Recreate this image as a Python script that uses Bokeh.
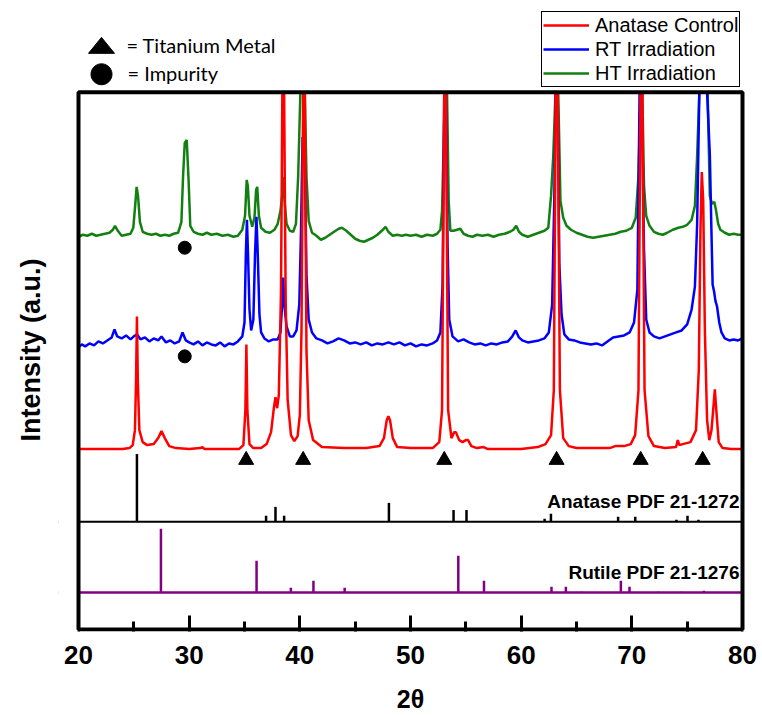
import numpy as np
from bokeh.plotting import figure
from bokeh.models import (Range1d, FixedTicker, Legend, LegendItem, Label, Title,
                          PolyAnnotation, Span, BoxAnnotation)
from bokeh.embed import file_html
from bokeh.resources import INLINE

# ---------------- data (2theta in degrees, intensity in a.u.) ----------------
anatase_control = [
    (20.0, 1), (21.0, 1), (22.0, 1), (23.0, 1), (24.0, 1), (24.6, 2), (24.9, 5),
    (25.1, 20), (25.2, 70), (25.28, 134), (25.36, 70), (25.5, 20), (25.8, 8),
    (26.2, 5), (26.8, 6), (27.2, 12), (27.5, 19), (27.8, 12), (28.2, 4), (28.8, 2),
    (30.0, 1), (31.0, 2), (31.2, 3), (31.4, 1), (33.0, 1), (34.5, 1), (34.9, 5),
    (35.08, 40), (35.17, 106), (35.26, 40), (35.45, 6), (35.8, 2), (36.5, 2),
    (37.0, 6), (37.4, 18), (37.65, 42), (37.8, 53), (37.95, 42), (38.1, 55),
    (38.3, 160), (38.42, 420), (38.58, 420), (38.72, 150), (38.9, 50), (39.2, 15),
    (39.5, 9), (39.8, 14), (40.0, 35), (40.15, 120), (40.3, 420), (40.45, 420),
    (40.6, 100), (40.8, 30), (41.2, 10), (42.0, 3), (44.0, 2), (46.0, 2),
    (47.2, 4), (47.6, 12), (47.85, 30), (48.0, 34), (48.15, 30), (48.4, 12),
    (48.8, 3), (50.0, 2), (52.0, 2), (52.6, 8), (52.85, 40), (53.05, 420),
    (53.2, 420), (53.4, 40), (53.7, 12), (53.95, 18), (54.1, 18), (54.4, 10),
    (54.7, 8), (55.0, 10), (55.2, 10), (55.5, 4), (56.0, 2), (56.6, 3), (57.0, 1),
    (60.0, 1), (61.5, 3), (62.2, 6), (62.7, 15), (62.95, 60), (63.12, 420),
    (63.3, 420), (63.5, 60), (63.8, 12), (64.3, 4), (65.0, 2), (68.0, 2),
    (68.5, 4), (69.3, 4), (69.9, 6), (70.3, 15), (70.6, 60), (70.78, 420),
    (70.95, 420), (71.15, 60), (71.5, 14), (72.0, 4), (73.0, 2), (74.0, 3),
    (74.15, 10), (74.3, 5), (74.6, 6), (75.3, 8), (75.8, 20), (76.05, 80),
    (76.2, 220), (76.32, 279), (76.45, 250), (76.6, 120), (76.8, 30), (77.0, 10),
    (77.2, 20), (77.35, 40), (77.5, 61), (77.6, 45), (77.7, 30), (77.85, 8),
    (78.2, 2), (79.0, 1), (80.0, 1),
]

rt_irradiation = [
    (20.0, -3), (20.3, 0), (20.6, -2), (21.0, 1), (21.4, -1), (21.8, 3), (22.2, 1),
    (22.6, 4), (23.0, 7), (23.25, 15), (23.5, 8), (23.9, 6), (24.3, 9), (24.7, 5),
    (25.0, 8), (25.3, 10), (25.6, 5), (26.0, 7), (26.4, 3), (26.8, 6), (27.2, 4),
    (27.5, 8), (27.9, 2), (28.3, 4), (28.7, 1), (29.1, 3), (29.4, 12), (29.7, 4),
    (30.0, 2), (30.4, 0), (30.8, 3), (31.2, -1), (31.6, 2), (32.0, 0), (32.4, -1),
    (32.8, 2), (33.2, -2), (33.6, 1), (34.0, 0), (34.4, 3), (34.8, 8), (35.0, 22),
    (35.12, 90), (35.22, 125), (35.32, 90), (35.45, 35), (35.6, 14), (35.8, 25),
    (35.95, 90), (36.08, 128), (36.2, 90), (36.35, 30), (36.5, 12), (36.8, 6),
    (37.2, 3), (37.6, 5), (38.0, 5), (38.25, 12), (38.4, 40), (38.5, 67),
    (38.6, 40), (38.8, 18), (39.1, 8), (39.4, 8), (39.7, 14), (39.95, 40),
    (40.1, 110), (40.25, 208), (40.45, 190), (40.6, 70), (40.8, 25), (41.1, 12),
    (41.5, 6), (42.0, 4), (42.5, 1), (43.0, 3), (43.5, 6), (44.0, 4), (44.5, 1),
    (45.0, 2), (45.5, 0), (46.0, 2), (46.5, -1), (47.0, 1), (47.5, 0), (48.0, 2),
    (48.5, 0), (49.0, 2), (49.5, -1), (50.0, 1), (50.5, -2), (51.0, 0), (51.5, -1),
    (52.0, 1), (52.4, 4), (52.7, 12), (52.9, 60), (53.05, 300), (53.2, 300),
    (53.35, 100), (53.5, 25), (53.8, 8), (54.3, 3), (54.8, 5), (55.3, 2), (55.8, 0),
    (56.3, 1), (56.8, -1), (57.3, 1), (57.8, 0), (58.3, 2), (58.8, 3), (59.2, 8),
    (59.5, 14), (59.8, 7), (60.1, 4), (60.6, 2), (61.1, 3), (61.6, 4), (62.1, 6),
    (62.5, 12), (62.8, 40), (63.0, 150), (63.12, 300), (63.3, 300), (63.45, 80),
    (63.65, 30), (63.9, 10), (64.3, 5), (64.8, 4), (65.3, 2), (65.8, 1), (66.3, 0),
    (66.8, 1), (67.3, -1), (67.8, 3), (68.3, 7), (68.8, 8), (69.3, 9), (69.8, 12),
    (70.2, 22), (70.5, 55), (70.7, 300), (70.9, 300), (71.1, 95), (71.3, 25),
    (71.6, 12), (72.0, 8), (72.5, 6), (73.0, 8), (73.5, 10), (74.0, 12), (74.5, 14),
    (75.0, 20), (75.4, 35), (75.7, 58), (75.9, 120), (76.1, 300), (76.8, 300),
    (77.05, 190), (77.2, 110), (77.3, 60), (77.45, 52), (77.55, 44), (77.7, 38),
    (77.9, 22), (78.1, 12), (78.4, 6), (78.8, 4), (79.2, 5), (79.6, 4), (80.0, 6),
]

ht_irradiation = [
    (20.0, -1), (20.4, 1), (20.8, 0), (21.2, 2), (21.6, 0), (22.0, 1), (22.4, 2),
    (22.8, 3), (23.1, 6), (23.3, 10), (23.55, 5), (23.9, 0), (24.3, 1), (24.7, 2),
    (24.95, 8), (25.12, 30), (25.25, 49), (25.38, 40), (25.55, 14), (25.8, 4),
    (26.2, 2), (26.6, 1), (27.0, 2), (27.4, 0), (27.8, 1), (28.2, 0), (28.6, 2),
    (29.0, 3), (29.3, 14), (29.45, 60), (29.6, 93), (29.78, 96), (29.95, 55),
    (30.1, 10), (30.4, 4), (30.8, 2), (31.2, 1), (31.6, 3), (32.0, 1), (32.5, 2),
    (33.0, 0), (33.5, 1), (34.0, -1), (34.4, 0), (34.8, 6), (35.05, 20), (35.2, 56),
    (35.3, 50), (35.45, 20), (35.7, 9), (35.9, 18), (36.05, 46), (36.15, 49),
    (36.3, 20), (36.5, 8), (36.9, 4), (37.3, 3), (37.7, 6), (38.0, 12), (38.25, 25),
    (38.4, 40), (38.5, 59), (38.62, 35), (38.8, 12), (39.1, 5), (39.4, 4),
    (39.65, 12), (39.85, 60), (40.05, 160), (40.2, 250), (40.45, 250), (40.6, 60),
    (40.8, 15), (41.1, 3), (41.5, 0), (41.9, -4), (42.3, -2), (42.7, 1), (43.1, 4),
    (43.5, 7), (43.8, 8), (44.2, 5), (44.6, 1), (45.0, -3), (45.4, -5), (45.8, -6),
    (46.2, -4), (46.6, -2), (47.0, 1), (47.4, 5), (47.75, 9), (48.0, 4), (48.4, 0),
    (48.8, 1), (49.2, 0), (49.6, 1), (50.0, 0), (50.5, 1), (51.0, -1), (51.5, 1),
    (52.0, 0), (52.4, 2), (52.7, 6), (52.85, 25), (52.97, 80), (53.1, 250),
    (53.3, 250), (53.45, 35), (53.6, 5), (53.9, 5), (54.2, 6), (54.5, 7), (54.8, 2),
    (55.2, 0), (55.6, -1), (56.0, 1), (56.5, 0), (57.0, 1), (57.5, -1), (58.0, 1),
    (58.5, 2), (59.0, 4), (59.3, 6), (59.55, 10), (59.8, 4), (60.1, 1), (60.6, -1),
    (61.1, 1), (61.6, 3), (62.1, 5), (62.45, 8), (62.7, 40), (62.9, 80), (63.1, 250),
    (63.35, 250), (63.55, 35), (63.8, 18), (64.1, 10), (64.5, 6), (65.0, 3),
    (65.5, 1), (66.0, -1), (66.5, -2), (67.0, -1), (67.5, 0), (68.0, 1), (68.5, 2),
    (69.0, 4), (69.5, 5), (70.0, 8), (70.35, 18), (70.6, 60), (70.8, 250),
    (70.95, 250), (71.1, 50), (71.3, 20), (71.6, 10), (72.0, 4), (72.4, 2),
    (72.8, 1), (73.2, 3), (73.7, 6), (74.2, 8), (74.6, 9), (75.0, 11), (75.4, 16),
    (75.7, 30), (75.9, 80), (76.1, 250), (76.85, 250), (77.05, 40), (77.25, 32),
    (77.45, 34), (77.6, 26), (77.8, 12), (78.0, 6), (78.4, 3), (78.8, 1), (79.2, 2),
    (79.6, 1), (80.0, 1),
]

# Reference patterns (stick positions and relative heights)
anatase_pos = [25.28, 36.95, 37.80, 38.58, 48.05, 53.89, 55.06, 62.12, 62.69,
               68.76, 70.31, 74.03, 75.03, 76.02]
anatase_h = [68, 6, 15, 6, 19, 12, 12, 3, 8, 5, 5, 2, 6, 2]
rutile_pos = [27.45, 36.09, 39.19, 41.23, 44.05, 54.32, 56.64, 62.74, 64.04,
              65.48, 69.01, 69.79, 72.41, 74.41, 76.51]
rutile_h = [64, 32, 5, 12, 5, 37, 12, 6, 6, 1, 12, 6, 1, 1, 2]

# Marked peaks
ti_metal_pos = [35.15, 40.3, 53.05, 63.2, 70.8, 76.4]
impurity_pos = [29.6]

x_ticks = [20, 30, 40, 50, 60, 70, 80]
x_minor = [25, 35, 45, 55, 65, 75]

# ---------------- layout constants ----------------
RED_OFF, BLUE_OFF, GREEN_OFF = 180, 286, 395
ANA_BASE, RUT_BASE = 108, 37
TI_Y = 170
IMP_DY = -12
TOP = 539          # upper edge of the plotting box (data units)
FONT = "Liberation Sans"
K = 60.0 / 664.0   # degrees per pixel
LEFT = 58          # canvas x where the (extended) frame starts


def X(px):  # canvas px -> data x
    return 20 + (px - 78) * K


def Y(py):  # canvas px -> data y
    return 631 - py


p = figure(width=762, height=715, output_backend="svg", toolbar_location=None,
           x_range=Range1d(X(LEFT), X(762)), y_range=Range1d(Y(633), Y(0)),
           y_axis_location=None,
           min_border_left=LEFT, min_border_right=0, min_border_top=0,
           min_border_bottom=82)
p.xgrid.visible = False
p.ygrid.visible = False
p.outline_line_color = None
p.background_fill_color = "white"
p.border_fill_color = "white"


def split(pts, off):
    xs = [a for a, _ in pts]
    ys = [min(b + off, TOP) for _, b in pts]   # off-scale peaks are cut at the box
    return xs, ys


gx, gy = split(ht_irradiation, GREEN_OFF)
bx, by = split(rt_irradiation, BLUE_OFF)
rx, ry = split(anatase_control, RED_OFF)
r_green = p.line(gx, gy, line_color="#118011", line_width=2.5)
r_blue = p.line(bx, by, line_color="#0000ff", line_width=2.5)
r_red = p.line(rx, ry, line_color="#ff0000", line_width=2.5)

# reference patterns
p.segment(x0=anatase_pos, y0=[ANA_BASE] * len(anatase_pos), x1=anatase_pos,
          y1=[ANA_BASE + h for h in anatase_h], line_color="black", line_width=2.5)
p.segment(x0=rutile_pos, y0=[RUT_BASE] * len(rutile_pos), x1=rutile_pos,
          y1=[RUT_BASE + h for h in rutile_h], line_color="#800080", line_width=2.5)

# markers
p.scatter(ti_metal_pos, [TI_Y] * len(ti_metal_pos), marker="triangle", size=15,
          color="black")
p.scatter(impurity_pos * 2, [GREEN_OFF + IMP_DY, BLUE_OFF + IMP_DY], marker="circle",
          size=13, color="black")

# pattern baselines
p.add_layout(Span(location=ANA_BASE, dimension="width", line_color="black",
                  line_width=2))
p.add_layout(Span(location=RUT_BASE, dimension="width", line_color="#800080",
                  line_width=2.5))

# white masks outside the plotting box, then the box itself
p.add_layout(BoxAnnotation(left=X(LEFT - 20), right=20, bottom=Y(700), top=Y(-40),
                           fill_color="white", fill_alpha=1.0, line_alpha=0))
p.add_layout(BoxAnnotation(left=80, right=X(800), bottom=Y(700), top=Y(-40),
                           fill_color="white", fill_alpha=1.0, line_alpha=0))
p.add_layout(BoxAnnotation(left=20, right=80, bottom=0, top=TOP, fill_alpha=0,
                           line_color="black", line_alpha=1.0, line_width=4))

# labels for reference patterns
p.add_layout(Label(x=X(739), y=Y(503), text="Anatase PDF 21-1272", text_align="right",
                   text_baseline="middle", text_font=FONT, text_font_size="19px",
                   text_font_style="bold", text_color="black"))
p.add_layout(Label(x=X(739), y=Y(574), text="Rutile PDF 21-1276", text_align="right",
                   text_baseline="middle", text_font=FONT, text_font_size="19px",
                   text_font_style="bold", text_color="black"))

# symbol key (above the box)
p.add_layout(PolyAnnotation(xs=[X(88), X(114), X(101)], ys=[Y(53), Y(53), Y(37)],
                            fill_color="black", fill_alpha=1, line_color="black",
                            line_alpha=1, line_width=1))
t = np.linspace(0, 2 * np.pi, 48, endpoint=False)
p.add_layout(PolyAnnotation(xs=[X(101 + 10.5 * c) for c in np.cos(t)],
                            ys=[Y(74 + 10.5 * s) for s in np.sin(t)],
                            fill_color="black", fill_alpha=1, line_color="black",
                            line_alpha=1, line_width=1))
p.add_layout(Label(x=X(126), y=Y(45), text="= Titanium Metal", text_baseline="middle",
                   text_font="Lato", text_font_size="20px", text_color="black"))
p.add_layout(Label(x=X(127), y=Y(73), text="= Impurity", text_baseline="middle",
                   text_font="Lato", text_font_size="20px", text_color="black"))

# legend
legend = Legend(items=[LegendItem(label="Anatase Control", renderers=[r_red]),
                       LegendItem(label="RT Irradiation", renderers=[r_blue]),
                       LegendItem(label="HT Irradiation", renderers=[r_green])],
                location=(541 - LEFT, 633 - 89), orientation="vertical",
                border_line_color="black", border_line_width=1, border_line_alpha=1,
                background_fill_color="white", background_fill_alpha=1.0,
                label_text_font=FONT, label_text_font_size="20px",
                label_text_color="black",
                glyph_width=46, glyph_height=24, label_height=24,
                label_standoff=6, padding=1, spacing=0, margin=0)
p.add_layout(legend)

# y title on the left, starting (bottom end) at canvas y = 443
p.add_layout(Title(text="Intensity (a.u.)", align="left", offset=190, standoff=25,
                   text_font=FONT, text_font_size="27px", text_font_style="bold",
                   text_color="black"), "left")

# x axis
xa = p.xaxis[0]
xa.ticker = FixedTicker(ticks=x_ticks, minor_ticks=x_minor)
xa.axis_line_color = None
xa.major_tick_in = 16
xa.major_tick_out = 0
xa.minor_tick_in = 10
xa.minor_tick_out = 0
xa.major_tick_line_width = 3
xa.minor_tick_line_width = 3
xa.major_tick_line_color = "black"
xa.minor_tick_line_color = "black"
xa.major_label_text_font = FONT
xa.major_label_text_font_size = "26px"
xa.major_label_text_font_style = "bold"
xa.major_label_text_color = "black"
xa.major_label_standoff = 14
xa.axis_label = "2θ"
xa.axis_label_text_font = FONT
xa.axis_label_text_font_size = "25px"
xa.axis_label_text_font_style = "bold"
xa.axis_label_text_color = "black"
xa.axis_label_standoff = 18

open("out.html", "w").write(file_html(p, INLINE))
